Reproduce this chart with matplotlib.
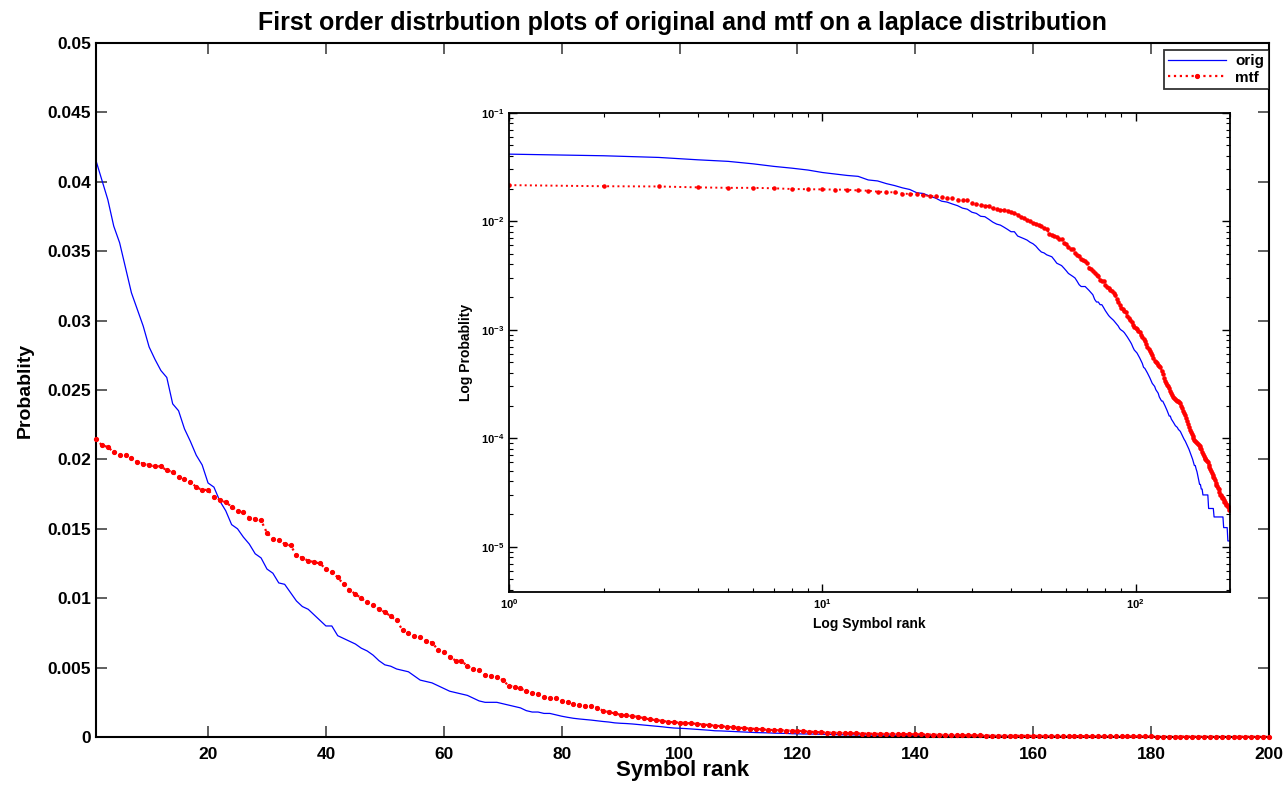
#!/usr/bin/env python3

import numpy as np
import matplotlib
import matplotlib.pyplot as plt
matplotlib.use('Agg')

# probabilities of each symbol rank
orig = [
    0.0415, 0.0401, 0.0387, 0.0368, 0.0356, 0.0338, 0.0320, 0.0308, 0.0296, 0.0281,
    0.0272, 0.0264, 0.0259, 0.0240, 0.0235, 0.0222, 0.0213, 0.0203, 0.0196, 0.0183,
    0.0180, 0.0170, 0.0163, 0.0153, 0.0150, 0.0144, 0.0139, 0.0132, 0.0129, 0.0121,
    0.0118, 0.0111, 0.0110, 0.0104, 0.0098, 0.0094, 0.0092, 0.0088, 0.0084, 0.0080,
    0.0080, 0.0073, 0.0071, 0.0069, 0.0067, 0.0064, 0.0062, 0.0059, 0.0055, 0.0052,
    0.0051, 0.0049, 0.0048, 0.0047, 0.0044, 0.0041, 0.0040, 0.0039, 0.0037, 0.0035,
    0.0033, 0.0032, 0.0031, 0.0030, 0.0028, 0.0026, 0.0025, 0.0025, 0.0025, 0.0024,
    0.0023, 0.0022, 0.0021, 0.0019, 0.0018, 0.0018, 0.0017, 0.0017, 0.0016, 0.0015,
    0.00142, 0.00135, 0.00130, 0.00126, 0.00122, 0.00117, 0.00112, 0.00108, 0.00102, 0.00099,
    0.00097, 0.00094, 0.00090, 0.00086, 0.00082, 0.00078, 0.00074, 0.00069, 0.00065, 0.00063,
    0.00061, 0.00058, 0.00055, 0.00052, 0.00049, 0.00045, 0.00044, 0.00042, 0.00040, 0.00038,
    0.00036, 0.00034, 0.00032, 0.00031, 0.00030, 0.00028, 0.00027, 0.00026, 0.00024, 0.00023,
    0.00022, 0.00022, 0.00021, 0.00020, 0.00019, 0.00018, 0.00017, 0.00016, 0.00016, 0.00015,
    0.000145, 0.00014, 0.000135, 0.00013, 0.000128, 0.000125, 0.00012, 0.000118, 0.000115, 0.00011,
    0.000105, 0.000101, 0.000097, 0.000094, 0.00009, 0.000086, 0.000083, 0.000079, 0.000075, 0.000071,
    0.000068, 0.000064, 0.00006, 0.000056, 0.000056, 0.000052, 0.000049, 0.000045, 0.000041, 0.0000375,
    0.0000375, 0.000034, 0.000034, 0.00003, 0.00003, 0.00003, 0.00003, 0.00003, 0.00003, 0.00003,
    0.0000225, 0.0000225, 0.0000225, 0.0000225, 0.0000225, 0.0000225, 0.0000225, 0.0000188, 0.0000188, 0.0000188,
    0.0000188, 0.0000188, 0.0000188, 0.0000188, 0.0000188, 0.0000188, 0.0000188, 0.0000188, 0.0000188, 0.0000188,
    0.000015, 0.000015, 0.000015, 0.000015, 0.000015, 0.000015, 0.0000113, 0.0000113, 0.0000113, 0.0000113,
]

mtf = [
    0.0215, 0.0210, 0.0209, 0.0205, 0.0203, 0.0203, 0.0201, 0.0198, 0.0197, 0.0196,
    0.0195, 0.0195, 0.0192, 0.0191, 0.0187, 0.0186, 0.0184, 0.0180, 0.0178, 0.0178,
    0.0173, 0.0171, 0.0169, 0.0166, 0.0163, 0.0162, 0.0158, 0.0157, 0.0156, 0.0147,
    0.0143, 0.0142, 0.0139, 0.0138, 0.0131, 0.0129, 0.0127, 0.0126, 0.0125, 0.0121,
    0.0119, 0.0115, 0.0110, 0.0106, 0.0103, 0.0100, 0.0097, 0.0095, 0.0092, 0.0090,
    0.0087, 0.0084, 0.0077, 0.0075, 0.0073, 0.0072, 0.0069, 0.0068, 0.0063, 0.0061,
    0.0058, 0.0055, 0.0055, 0.0051, 0.0049, 0.0048, 0.0045, 0.0044, 0.0043, 0.0041,
    0.0037, 0.0036, 0.0035, 0.0033, 0.0032, 0.0031, 0.0029, 0.0028, 0.0028, 0.0026,
    0.0025, 0.0024, 0.0023, 0.00225, 0.0022, 0.0021, 0.0019, 0.0018, 0.0017, 0.0016,
    0.00156, 0.0015, 0.00146, 0.00135, 0.00127, 0.00122, 0.00117, 0.0011, 0.00106, 0.00104,
    0.00101, 0.00098, 0.00095, 0.00090, 0.00086, 0.00082, 0.00078, 0.00074, 0.00070, 0.00067,
    0.00064, 0.00061, 0.00058, 0.00055, 0.00052, 0.0005, 0.00049, 0.00047, 0.00046, 0.00045,
    0.00042, 0.00039, 0.00036, 0.00034, 0.00032, 0.00031, 0.0003, 0.00029, 0.000275, 0.00026,
    0.00025, 0.00024, 0.000235, 0.00023, 0.000225, 0.00022, 0.000218, 0.000215, 0.000212, 0.0002,
    0.00019, 0.00018, 0.000172, 0.000165, 0.000155, 0.000145, 0.000135, 0.000127, 0.00012, 0.000115,
    0.00011, 0.000105, 0.0001, 0.000097, 0.000095, 0.000093, 0.00009, 0.000088, 0.000086, 0.000084,
    0.000082, 0.000079, 0.000075, 0.000071, 0.000068, 0.000066, 0.000064, 0.000063, 0.000062, 0.00006,
    0.000057, 0.000054, 0.000052, 0.00005, 0.000048, 0.000046, 0.000044, 0.000043, 0.000041, 0.000039,
    0.000037, 0.000036, 0.000035, 0.000034, 0.000032, 0.00003, 0.00003, 0.000029, 0.000028, 0.000028,
    0.000027, 0.000026, 0.000026, 0.000025, 0.000024, 0.000024, 0.000023, 0.000023, 0.000022, 0.000022,
]

ranks = np.arange(1, len(orig) + 1)
x_ticks = [20, 40, 60, 80, 100, 120, 140, 160, 180, 200]
y_ticks = [0, 0.005, 0.01, 0.015, 0.02, 0.025, 0.03, 0.035, 0.04, 0.045, 0.05]
y_tick_labels = ['0', '0.005', '0.01', '0.015', '0.02', '0.025', '0.03',
                 '0.035', '0.04', '0.045', '0.05']

plt.rcParams['font.family'] = ['Liberation Sans', 'DejaVu Sans']
plt.rcParams['font.weight'] = 'bold'
plt.rcParams['mathtext.fontset'] = 'custom'
plt.rcParams['mathtext.rm'] = 'Liberation Sans:bold'
plt.rcParams['mathtext.it'] = 'Liberation Sans:bold'
plt.rcParams['mathtext.bf'] = 'Liberation Sans:bold'

fig = plt.figure(figsize=(12.86, 7.87), dpi=100)

# main linear plot
ax = fig.add_axes([0.0747, 0.0635, 0.912, 0.882])
ax.plot(ranks, orig, color='#0000ff', linewidth=0.9, label='orig')
ax.plot(ranks, mtf, color='#ff0000', linestyle=':', linewidth=1.6,
        marker='.', markersize=5.5, label='mtf', clip_on=False, zorder=3)
ax.set_xlim(1, 200)
ax.set_ylim(0, 0.05)
ax.set_xticks(x_ticks)
ax.set_yticks(y_ticks)
ax.set_yticklabels(y_tick_labels)
ax.tick_params(direction='in', length=8, width=1.2, labelsize=12.5,
               top=True, right=True, color='#444444')
ax.tick_params(axis='x', pad=7)
for sp in ax.spines.values():
    sp.set_linewidth(1.5)
    sp.set_zorder(2)
ax.set_xlabel('Symbol rank', fontsize=16, fontweight='bold', labelpad=-1)
ax.set_ylabel('Probablity', fontsize=14, fontweight='bold', labelpad=10)
ax.set_title('First order distrbution plots of original and mtf on a laplace distribution',
             fontsize=18, fontweight='bold', pad=9)
leg = ax.legend(loc='upper right', bbox_to_anchor=(1.0, 0.99),
                borderaxespad=0, fancybox=False, edgecolor='black',
                fontsize=11, handlelength=3.8, numpoints=1,
                borderpad=0.3, labelspacing=0.15, handletextpad=0.6)
leg.get_frame().set_linewidth(1.3)

# log-log inset
ins = fig.add_axes([0.396, 0.2474, 0.5604, 0.6094])
ins.loglog(ranks, orig, color='#0000ff', linewidth=0.9)
ins.loglog(ranks, mtf, color='#ff0000', linestyle=':', linewidth=1.4,
           marker='.', markersize=4.5)
ins.set_xlim(1, 200)
ins.set_ylim(3.8e-6, 0.1)
ins.tick_params(which='both', direction='in', top=True, right=True,
                labelsize=8)
ins.tick_params(which='major', length=6, width=1)
ins.tick_params(which='minor', length=3, width=0.8)
for sp in ins.spines.values():
    sp.set_linewidth(1.3)
ins.set_xlabel('Log Symbol rank', fontsize=10, fontweight='bold', labelpad=4)
ins.set_ylabel('Log Probablity', fontsize=10, fontweight='bold', labelpad=6)

fig.savefig('out.png', dpi=100)
